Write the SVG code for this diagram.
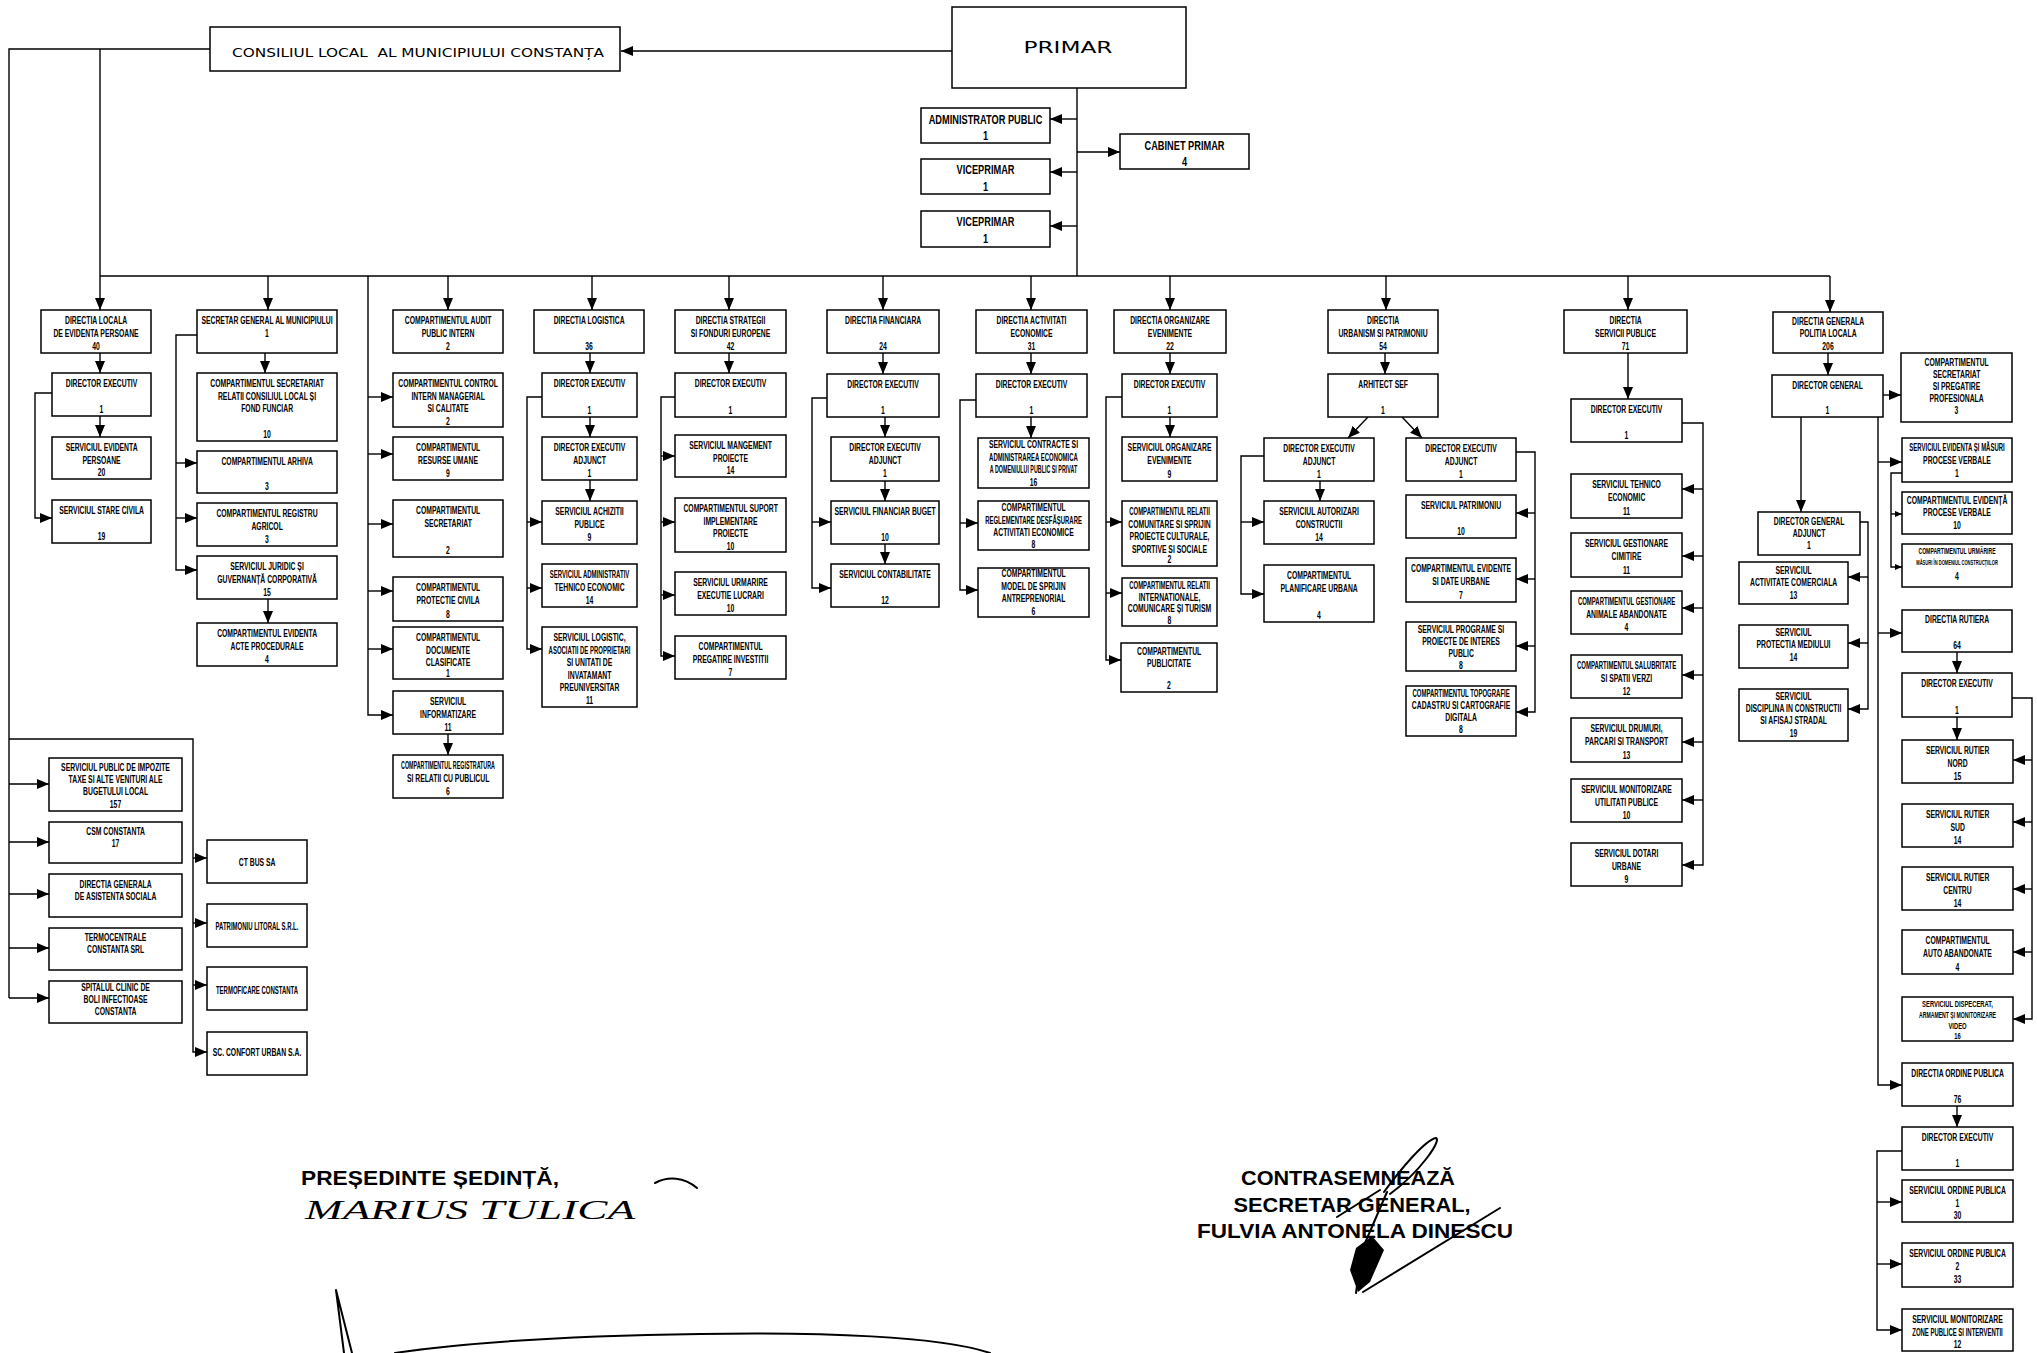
<svg xmlns="http://www.w3.org/2000/svg" width="2037" height="1353" viewBox="0 0 2037 1353">
<style>
.b{fill:#fff;stroke:#000;stroke-width:1.5}
.c{fill:none;stroke:#000;stroke-width:1.4}
.a{marker-end:url(#ah)}
.as{marker-end:url(#ahs)}
.t{font-family:"Liberation Sans",Arial,sans-serif;font-weight:bold;font-size:10.5px;text-anchor:middle;fill:#000;transform-box:fill-box;transform-origin:center;transform:scaleX(.65)}
.n{transform:scaleX(.57)}
.n2{transform:scaleX(.51)}
.s{font-size:9px}
.xs{font-size:8px}
.u{font-size:12.5px;transform:scaleX(.74)}
.sig{font-family:"Liberation Sans",Arial,sans-serif;font-weight:bold;font-size:20px;text-anchor:middle;fill:#000}
.hw{fill:none;stroke:#000;stroke-width:2;stroke-linecap:round;stroke-linejoin:round}
</style>
<defs>
<marker id="ah" viewBox="0 0 12 10" refX="12" refY="5" markerWidth="12" markerHeight="10" markerUnits="userSpaceOnUse" orient="auto"><path d="M0,0L12,5L0,10z" fill="#000"/></marker>
<marker id="ahs" viewBox="0 0 7 6" refX="7" refY="3" markerWidth="7" markerHeight="6" markerUnits="userSpaceOnUse" orient="auto"><path d="M0,0L7,3L0,6z" fill="#000"/></marker>
</defs>
<rect width="2037" height="1353" fill="#fff"/>

<g id="connectors">
<path class="c a" d="M952,51H621"/>
<path class="c" d="M210,49H9V998"/>
<path class="c a" d="M100,49V310"/>
<path class="c" d="M100,276H1830"/>
<path class="c" d="M1077,88V276"/>
<path class="c a" d="M1077,119H1050"/>
<path class="c a" d="M1077,172H1050"/>
<path class="c a" d="M1077,226H1050"/>
<path class="c a" d="M1077,152H1120"/>
<path class="c a" d="M268,276V310"/>
<path class="c a" d="M448,276V310"/>
<path class="c a" d="M592,276V310"/>
<path class="c a" d="M729,276V310"/>
<path class="c a" d="M883,276V310"/>
<path class="c a" d="M1031,276V310"/>
<path class="c a" d="M1170,276V310"/>
<path class="c a" d="M1386,276V310"/>
<path class="c a" d="M1628,276V310"/>
<path class="c a" d="M1830,276V312"/>
<!-- col 1 -->
<path class="c a" d="M100,353V373"/>
<path class="c a" d="M100,416V437"/>
<path class="c a" d="M52,393H35V518H52"/>
<!-- col 2 -->
<path class="c a" d="M265,353V373"/>
<path class="c a" d="M197,335H176V570H197"/>
<path class="c a" d="M176,463H197"/>
<path class="c a" d="M176,518H197"/>
<path class="c a" d="M268,599V623"/>
<!-- col 3 -->
<path class="c a" d="M368,276V715H393"/>
<path class="c a" d="M368,397H393"/>
<path class="c a" d="M368,454H393"/>
<path class="c a" d="M368,524H393"/>
<path class="c a" d="M368,591H393"/>
<path class="c a" d="M368,649H393"/>
<path class="c a" d="M448,734V755"/>
<!-- col 4 -->
<path class="c a" d="M590,353V373"/>
<path class="c a" d="M590,417V437"/>
<path class="c a" d="M590,480V501"/>
<path class="c a" d="M542,397H527V649H542"/>
<path class="c a" d="M527,522H542"/>
<path class="c a" d="M527,588H542"/>
<!-- col 5 -->
<path class="c a" d="M729,353V373"/>
<path class="c a" d="M675,397H661V656H675"/>
<path class="c a" d="M661,456H675"/>
<path class="c a" d="M661,522H675"/>
<path class="c a" d="M661,595H675"/>
<!-- col 6 -->
<path class="c a" d="M883,353V374"/>
<path class="c a" d="M885,417V437"/>
<path class="c a" d="M885,481V501"/>
<path class="c a" d="M885,544V564"/>
<path class="c a" d="M827,398H812V588H831"/>
<path class="c a" d="M812,522H831"/>
<!-- col 7 -->
<path class="c a" d="M1031,353V374"/>
<path class="c a" d="M1031,417V438"/>
<path class="c a" d="M976,400H960V590H978"/>
<path class="c a" d="M960,523H978"/>
<!-- col 8 -->
<path class="c a" d="M1170,353V374"/>
<path class="c a" d="M1170,417V437"/>
<path class="c a" d="M1122,397H1106V660H1121"/>
<path class="c a" d="M1106,522H1122"/>
<path class="c a" d="M1106,593H1122"/>
<!-- col 9 -->
<path class="c a" d="M1385,353V374"/>
<path class="c a" d="M1368,417L1348,438"/>
<path class="c a" d="M1402,417L1422,438"/>
<path class="c a" d="M1320,481V501"/>
<path class="c a" d="M1264,456H1241V594H1264"/>
<path class="c a" d="M1241,522H1264"/>
<path class="c a" d="M1516,452H1535V712H1516"/>
<path class="c a" d="M1535,513H1516"/>
<path class="c a" d="M1535,579H1516"/>
<path class="c a" d="M1535,646H1516"/>
<!-- col 10 -->
<path class="c a" d="M1628,353V399"/>
<path class="c a" d="M1682,423H1703V865H1682"/>
<path class="c a" d="M1703,489H1682"/>
<path class="c a" d="M1703,556H1682"/>
<path class="c a" d="M1703,608H1682"/>
<path class="c a" d="M1703,675H1682"/>
<path class="c a" d="M1703,742H1682"/>
<path class="c a" d="M1703,800H1682"/>
<!-- col 11 -->
<path class="c a" d="M1828,353V375"/>
<path class="c a" d="M1883,395H1901"/>
<path class="c a" d="M1801,417V512"/>
<path class="c a" d="M1878,417V1085H1902"/>
<path class="c a" d="M1878,462H1902"/>
<path class="c a" d="M1878,633H1902"/>
<path class="c as" d="M1902,473H1891V567H1902"/>
<path class="c as" d="M1891,514H1902"/>
<path class="c a" d="M1860,522H1868V709H1848"/>
<path class="c a" d="M1868,577H1848"/>
<path class="c a" d="M1868,643H1848"/>
<path class="c a" d="M1957,652V673"/>
<path class="c a" d="M1957,717V740"/>
<path class="c a" d="M2012,698H2032V1019H2013"/>
<path class="c a" d="M2032,760H2013"/>
<path class="c a" d="M2032,822H2013"/>
<path class="c a" d="M2032,889H2013"/>
<path class="c a" d="M2032,952H2013"/>
<path class="c a" d="M1957,1106V1127"/>
<path class="c a" d="M1902,1151H1877V1330H1902"/>
<path class="c a" d="M1877,1202H1902"/>
<path class="c a" d="M1877,1264H1902"/>
<!-- bottom left -->
<path class="c a" d="M9,784H49"/>
<path class="c a" d="M9,842H49"/>
<path class="c a" d="M9,894H49"/>
<path class="c a" d="M9,948H49"/>
<path class="c a" d="M9,998H49"/>
<path class="c a" d="M9,739H193V1052H207"/>
<path class="c a" d="M193,858H207"/>
<path class="c a" d="M193,923H207"/>
<path class="c a" d="M193,985H207"/>
</g>

<g id="consiliul"><rect class="b" x="210" y="27" width="410" height="44"/><text x="418" y="57" font-family="DejaVu Sans,Verdana,sans-serif" font-size="12" text-anchor="middle" textLength="372" lengthAdjust="spacingAndGlyphs" xml:space="preserve">CONSILIUL LOCAL  AL MUNICIPIULUI CONSTANȚA</text></g>
<g id="primar"><rect class="b" x="952" y="7" width="234" height="81"/><text x="1068" y="53" font-family="DejaVu Sans,Verdana,sans-serif" font-size="16" text-anchor="middle" textLength="89" lengthAdjust="spacingAndGlyphs">PRIMAR</text></g>
<g id="admin_public"><rect class="b" x="921" y="108" width="129" height="35"/><text class="t u" x="985.5" y="124">ADMINISTRATOR PUBLIC</text><text class="t u" x="985.5" y="140">1</text></g>
<g id="viceprimar1"><rect class="b" x="921" y="159" width="129" height="35"/><text class="t u" x="985.5" y="174">VICEPRIMAR</text><text class="t u" x="985.5" y="191">1</text></g>
<g id="viceprimar2"><rect class="b" x="921" y="211" width="129" height="36"/><text class="t u" x="985.5" y="226">VICEPRIMAR</text><text class="t u" x="985.5" y="243">1</text></g>
<g id="cabinet"><rect class="b" x="1120" y="134" width="129" height="35"/><text class="t u" x="1184.5" y="150">CABINET PRIMAR</text><text class="t u" x="1184.5" y="166">4</text></g>

<g id="dl"><rect class="b" x="41" y="310" width="110" height="43"/><text class="t" x="96" y="324.5">DIRECTIA LOCALA</text><text class="t" x="96" y="337">DE EVIDENTA PERSOANE</text><text class="t" x="96" y="350">40</text></g>
<g id="dl_de"><rect class="b" x="52" y="373" width="99" height="43"/><text class="t" x="101.5" y="387.5">DIRECTOR EXECUTIV</text><text class="t" x="101.5" y="413">1</text></g>
<g id="dl_sep"><rect class="b" x="52" y="437" width="99" height="42"/><text class="t" x="101.5" y="451.5">SERVICIUL EVIDENTA</text><text class="t" x="101.5" y="464">PERSOANE</text><text class="t" x="101.5" y="476.5">20</text></g>
<g id="dl_ssc"><rect class="b" x="52" y="500" width="99" height="43"/><text class="t" x="101.5" y="514.5">SERVICIUL STARE CIVILA</text><text class="t" x="101.5" y="540">19</text></g>

<g id="sg"><rect class="b" x="197" y="310" width="140" height="43"/><text class="t" x="267" y="324.5">SECRETAR GENERAL AL MUNICIPIULUI</text><text class="t" x="267" y="337">1</text></g>
<g id="sg_csr"><rect class="b" x="197" y="373" width="140" height="68"/><text class="t" x="267" y="387.5">COMPARTIMENTUL SECRETARIAT</text><text class="t" x="267" y="400">RELATII CONSILIUL LOCAL ȘI</text><text class="t" x="267" y="412.5">FOND FUNCIAR</text><text class="t" x="267" y="438">10</text></g>
<g id="sg_arh"><rect class="b" x="197" y="451" width="140" height="42"/><text class="t" x="267" y="465.5">COMPARTIMENTUL ARHIVA</text><text class="t" x="267" y="490">3</text></g>
<g id="sg_reg"><rect class="b" x="197" y="503" width="140" height="43"/><text class="t" x="267" y="517.5">COMPARTIMENTUL REGISTRU</text><text class="t" x="267" y="530">AGRICOL</text><text class="t" x="267" y="543">3</text></g>
<g id="sg_jur"><rect class="b" x="197" y="556" width="140" height="43"/><text class="t" x="267" y="570.5">SERVICIUL JURIDIC ȘI</text><text class="t" x="267" y="583">GUVERNANȚĂ CORPORATIVĂ</text><text class="t" x="267" y="596">15</text></g>
<g id="sg_eap"><rect class="b" x="197" y="623" width="140" height="43"/><text class="t" x="267" y="637.5">COMPARTIMENTUL EVIDENTA</text><text class="t" x="267" y="650">ACTE PROCEDURALE</text><text class="t" x="267" y="663">4</text></g>

<g id="au"><rect class="b" x="393" y="310" width="110" height="43"/><text class="t" x="448" y="324.5">COMPARTIMENTUL AUDIT</text><text class="t" x="448" y="337">PUBLIC INTERN</text><text class="t" x="448" y="350">2</text></g>
<g id="au_cim"><rect class="b" x="393" y="373" width="110" height="54"/><text class="t" x="448" y="387.5">COMPARTIMENTUL CONTROL</text><text class="t" x="448" y="400">INTERN MANAGERIAL</text><text class="t" x="448" y="412.5">SI CALITATE</text><text class="t" x="448" y="425">2</text></g>
<g id="au_ru"><rect class="b" x="393" y="437" width="110" height="43"/><text class="t" x="448" y="451.5">COMPARTIMENTUL</text><text class="t" x="448" y="464">RESURSE UMANE</text><text class="t" x="448" y="477">9</text></g>
<g id="au_sec"><rect class="b" x="393" y="500" width="110" height="57"/><text class="t" x="448" y="514.5">COMPARTIMENTUL</text><text class="t" x="448" y="527">SECRETARIAT</text><text class="t" x="448" y="554">2</text></g>
<g id="au_pc"><rect class="b" x="393" y="577" width="110" height="44"/><text class="t" x="448" y="591.5">COMPARTIMENTUL</text><text class="t" x="448" y="604">PROTECTIE CIVILA</text><text class="t" x="448" y="618">8</text></g>
<g id="au_dc"><rect class="b" x="393" y="627" width="110" height="52"/><text class="t" x="448" y="641.5">COMPARTIMENTUL</text><text class="t" x="448" y="654">DOCUMENTE</text><text class="t" x="448" y="666">CLASIFICATE</text><text class="t" x="448" y="677">1</text></g>
<g id="au_inf"><rect class="b" x="393" y="691" width="110" height="43"/><text class="t" x="448" y="705.5">SERVICIUL</text><text class="t" x="448" y="718">INFORMATIZARE</text><text class="t" x="448" y="731">11</text></g>
<g id="au_reg"><rect class="b" x="393" y="755" width="110" height="43"/><text class="t n2" x="448" y="769.5">COMPARTIMENTUL REGISTRATURA</text><text class="t" x="448" y="782">SI RELATII CU PUBLICUL</text><text class="t" x="448" y="795">6</text></g>

<g id="lg"><rect class="b" x="534" y="310" width="110" height="43"/><text class="t" x="589" y="324.5">DIRECTIA LOGISTICA</text><text class="t" x="589" y="350">36</text></g>
<g id="lg_de"><rect class="b" x="542" y="373" width="95" height="44"/><text class="t" x="589.5" y="387.5">DIRECTOR EXECUTIV</text><text class="t" x="589.5" y="414">1</text></g>
<g id="lg_dea"><rect class="b" x="542" y="437" width="95" height="43"/><text class="t" x="589.5" y="451.5">DIRECTOR EXECUTIV</text><text class="t" x="589.5" y="464">ADJUNCT</text><text class="t" x="589.5" y="477">1</text></g>
<g id="lg_ach"><rect class="b" x="542" y="501" width="95" height="43"/><text class="t" x="589.5" y="515.5">SERVICIUL ACHIZITII</text><text class="t" x="589.5" y="528">PUBLICE</text><text class="t" x="589.5" y="541">9</text></g>
<g id="lg_adm"><rect class="b" x="542" y="564" width="95" height="43"/><text class="t n" x="589.5" y="578.5">SERVICIUL ADMINISTRATIV</text><text class="t" x="589.5" y="591">TEHNICO ECONOMIC</text><text class="t" x="589.5" y="604">14</text></g>
<g id="lg_log"><rect class="b" x="542" y="627" width="95" height="80"/><text class="t" x="589.5" y="641.5">SERVICIUL LOGISTIC,</text><text class="t n" x="589.5" y="654">ASOCIATII DE PROPRIETARI</text><text class="t" x="589.5" y="666.5">SI UNITATI DE</text><text class="t" x="589.5" y="679">INVATAMANT</text><text class="t" x="589.5" y="691.5">PREUNIVERSITAR</text><text class="t" x="589.5" y="704">11</text></g>

<g id="st"><rect class="b" x="675" y="310" width="111" height="43"/><text class="t" x="730.5" y="324.5">DIRECTIA STRATEGII</text><text class="t" x="730.5" y="337">SI FONDURI EUROPENE</text><text class="t" x="730.5" y="350">42</text></g>
<g id="st_de"><rect class="b" x="675" y="373" width="111" height="44"/><text class="t" x="730.5" y="387.5">DIRECTOR EXECUTIV</text><text class="t" x="730.5" y="414">1</text></g>
<g id="st_smp"><rect class="b" x="675" y="435" width="111" height="42"/><text class="t" x="730.5" y="449.5">SERVICIUL MANGEMENT</text><text class="t" x="730.5" y="462">PROIECTE</text><text class="t" x="730.5" y="474">14</text></g>
<g id="st_csip"><rect class="b" x="675" y="498" width="111" height="54"/><text class="t" x="730.5" y="512.5">COMPARTIMENTUL SUPORT</text><text class="t" x="730.5" y="525">IMPLEMENTARE</text><text class="t" x="730.5" y="537.5">PROIECTE</text><text class="t" x="730.5" y="550">10</text></g>
<g id="st_sue"><rect class="b" x="675" y="572" width="111" height="43"/><text class="t" x="730.5" y="586.5">SERVICIUL URMARIRE</text><text class="t" x="730.5" y="599">EXECUTIE LUCRARI</text><text class="t" x="730.5" y="612">10</text></g>
<g id="st_cpi"><rect class="b" x="675" y="636" width="111" height="43"/><text class="t" x="730.5" y="650.5">COMPARTIMENTUL</text><text class="t" x="730.5" y="663">PREGATIRE INVESTITII</text><text class="t" x="730.5" y="676">7</text></g>

<g id="fi"><rect class="b" x="827" y="310" width="112" height="43"/><text class="t" x="883" y="324.5">DIRECTIA FINANCIARA</text><text class="t" x="883" y="350">24</text></g>
<g id="fi_de"><rect class="b" x="827" y="374" width="112" height="43"/><text class="t" x="883" y="388.5">DIRECTOR EXECUTIV</text><text class="t" x="883" y="414">1</text></g>
<g id="fi_dea"><rect class="b" x="831" y="437" width="108" height="44"/><text class="t" x="885" y="451.5">DIRECTOR EXECUTIV</text><text class="t" x="885" y="464">ADJUNCT</text><text class="t" x="885" y="477.5">1</text></g>
<g id="fi_sfb"><rect class="b" x="831" y="501" width="108" height="43"/><text class="t" x="885" y="515.5">SERVICIUL FINANCIAR BUGET</text><text class="t" x="885" y="541">10</text></g>
<g id="fi_sc"><rect class="b" x="831" y="564" width="108" height="43"/><text class="t" x="885" y="578.5">SERVICIUL CONTABILITATE</text><text class="t" x="885" y="604">12</text></g>

<g id="ae"><rect class="b" x="976" y="310" width="111" height="43"/><text class="t" x="1031.5" y="324.5">DIRECTIA ACTIVITATI</text><text class="t" x="1031.5" y="337">ECONOMICE</text><text class="t" x="1031.5" y="350">31</text></g>
<g id="ae_de"><rect class="b" x="976" y="374" width="111" height="43"/><text class="t" x="1031.5" y="388.5">DIRECTOR EXECUTIV</text><text class="t" x="1031.5" y="414">1</text></g>
<g id="ae_sca"><rect class="b" x="978" y="438" width="111" height="50"/><text class="t" x="1033.5" y="448.5">SERVICIUL CONTRACTE SI</text><text class="t n" x="1033.5" y="461">ADMINISTRAREA ECONOMICA</text><text class="t n2" x="1033.5" y="473.5">A DOMENIULUI PUBLIC SI PRIVAT</text><text class="t" x="1033.5" y="486">16</text></g>
<g id="ae_crd"><rect class="b" x="978" y="501" width="111" height="49"/><text class="t" x="1033.5" y="511.5">COMPARTIMENTUL</text><text class="t n" x="1033.5" y="524">REGLEMENTARE DESFĂȘURARE</text><text class="t" x="1033.5" y="536.5">ACTIVITATI ECONOMICE</text><text class="t" x="1033.5" y="548">8</text></g>
<g id="ae_cms"><rect class="b" x="978" y="568" width="111" height="49"/><text class="t" x="1033.5" y="577.5">COMPARTIMENTUL</text><text class="t" x="1033.5" y="590">MODEL DE SPRIJIN</text><text class="t" x="1033.5" y="602.5">ANTREPRENORIAL</text><text class="t" x="1033.5" y="615">6</text></g>

<g id="oe"><rect class="b" x="1114" y="310" width="112" height="43"/><text class="t" x="1170" y="324.5">DIRECTIA ORGANIZARE</text><text class="t" x="1170" y="337">EVENIMENTE</text><text class="t" x="1170" y="350">22</text></g>
<g id="oe_de"><rect class="b" x="1122" y="374" width="95" height="43"/><text class="t" x="1169.5" y="388.5">DIRECTOR EXECUTIV</text><text class="t" x="1169.5" y="414">1</text></g>
<g id="oe_soe"><rect class="b" x="1122" y="437" width="95" height="44"/><text class="t" x="1169.5" y="451.5">SERVICIUL ORGANIZARE</text><text class="t" x="1169.5" y="464">EVENIMENTE</text><text class="t" x="1169.5" y="478">9</text></g>
<g id="oe_crc"><rect class="b" x="1122" y="501" width="95" height="65"/><text class="t n" x="1169.5" y="515.5">COMPARTIMENTUL RELATII</text><text class="t" x="1169.5" y="528">COMUNITARE SI SPRIJIN</text><text class="t" x="1169.5" y="540.5">PROIECTE CULTURALE,</text><text class="t" x="1169.5" y="553">SPORTIVE SI SOCIALE</text><text class="t" x="1169.5" y="563.5">2</text></g>
<g id="oe_cri"><rect class="b" x="1122" y="578" width="95" height="48"/><text class="t n" x="1169.5" y="589.5">COMPARTIMENTUL RELATII</text><text class="t" x="1169.5" y="601">INTERNATIONALE,</text><text class="t" x="1169.5" y="612.5">COMUNICARE ȘI TURISM</text><text class="t" x="1169.5" y="624">8</text></g>
<g id="oe_cp"><rect class="b" x="1121" y="643" width="96" height="49"/><text class="t" x="1169" y="655">COMPARTIMENTUL</text><text class="t" x="1169" y="667">PUBLICITATE</text><text class="t" x="1169" y="689">2</text></g>

<g id="ur"><rect class="b" x="1328" y="310" width="110" height="43"/><text class="t" x="1383" y="324.5">DIRECTIA</text><text class="t" x="1383" y="337">URBANISM SI PATRIMONIU</text><text class="t" x="1383" y="350">54</text></g>
<g id="ur_as"><rect class="b" x="1328" y="374" width="110" height="43"/><text class="t" x="1383" y="388.5">ARHITECT SEF</text><text class="t" x="1383" y="414">1</text></g>
<g id="ur_dea1"><rect class="b" x="1264" y="438" width="110" height="43"/><text class="t" x="1319" y="452.5">DIRECTOR EXECUTIV</text><text class="t" x="1319" y="465">ADJUNCT</text><text class="t" x="1319" y="478">1</text></g>
<g id="ur_sac"><rect class="b" x="1264" y="501" width="110" height="43"/><text class="t" x="1319" y="515.5">SERVICIUL AUTORIZARI</text><text class="t" x="1319" y="528">CONSTRUCTII</text><text class="t" x="1319" y="541">14</text></g>
<g id="ur_cpu"><rect class="b" x="1264" y="565" width="110" height="57"/><text class="t" x="1319" y="579.5">COMPARTIMENTUL</text><text class="t" x="1319" y="592">PLANIFICARE URBANA</text><text class="t" x="1319" y="619">4</text></g>
<g id="ur_dea2"><rect class="b" x="1406" y="438" width="110" height="43"/><text class="t" x="1461" y="452.5">DIRECTOR EXECUTIV</text><text class="t" x="1461" y="465">ADJUNCT</text><text class="t" x="1461" y="478">1</text></g>
<g id="ur_sp"><rect class="b" x="1406" y="495" width="110" height="43"/><text class="t" x="1461" y="509.5">SERVICIUL PATRIMONIU</text><text class="t" x="1461" y="535">10</text></g>
<g id="ur_ced"><rect class="b" x="1406" y="558" width="110" height="44"/><text class="t" x="1461" y="572.5">COMPARTIMENTUL EVIDENTE</text><text class="t" x="1461" y="585">SI DATE URBANE</text><text class="t" x="1461" y="599">7</text></g>
<g id="ur_spp"><rect class="b" x="1406" y="622" width="110" height="49"/><text class="t" x="1461" y="633.5">SERVICIUL PROGRAME SI</text><text class="t" x="1461" y="645.5">PROIECTE DE INTERES</text><text class="t" x="1461" y="657.5">PUBLIC</text><text class="t" x="1461" y="669">8</text></g>
<g id="ur_ctc"><rect class="b" x="1406" y="686" width="110" height="50"/><text class="t n" x="1461" y="697.5">COMPARTIMENTUL TOPOGRAFIE</text><text class="t" x="1461" y="709.5">CADASTRU SI CARTOGRAFIE</text><text class="t" x="1461" y="721.5">DIGITALA</text><text class="t" x="1461" y="733.5">8</text></g>

<g id="sp"><rect class="b" x="1564" y="310" width="123" height="43"/><text class="t" x="1625.5" y="324.5">DIRECTIA</text><text class="t" x="1625.5" y="337">SERVICII PUBLICE</text><text class="t" x="1625.5" y="350">71</text></g>
<g id="sp_de"><rect class="b" x="1571" y="399" width="111" height="43"/><text class="t" x="1626.5" y="413.5">DIRECTOR EXECUTIV</text><text class="t" x="1626.5" y="439">1</text></g>
<g id="sp_ste"><rect class="b" x="1571" y="474" width="111" height="44"/><text class="t" x="1626.5" y="488.5">SERVICIUL TEHNICO</text><text class="t" x="1626.5" y="501">ECONOMIC</text><text class="t" x="1626.5" y="515">11</text></g>
<g id="sp_sgc"><rect class="b" x="1571" y="533" width="111" height="44"/><text class="t" x="1626.5" y="547.5">SERVICIUL GESTIONARE</text><text class="t" x="1626.5" y="560">CIMITIRE</text><text class="t" x="1626.5" y="574">11</text></g>
<g id="sp_cga"><rect class="b" x="1571" y="591" width="111" height="43"/><text class="t n" x="1626.5" y="605.5">COMPARTIMENTUL GESTIONARE</text><text class="t" x="1626.5" y="618">ANIMALE ABANDONATE</text><text class="t" x="1626.5" y="631">4</text></g>
<g id="sp_css"><rect class="b" x="1571" y="655" width="111" height="43"/><text class="t n" x="1626.5" y="669.5">COMPARTIMENTUL SALUBRITATE</text><text class="t" x="1626.5" y="682">SI SPATII VERZI</text><text class="t" x="1626.5" y="695">12</text></g>
<g id="sp_sdp"><rect class="b" x="1571" y="718" width="111" height="44"/><text class="t" x="1626.5" y="732.5">SERVICIUL DRUMURI,</text><text class="t" x="1626.5" y="745">PARCARI SI TRANSPORT</text><text class="t" x="1626.5" y="759">13</text></g>
<g id="sp_smu"><rect class="b" x="1571" y="779" width="111" height="43"/><text class="t" x="1626.5" y="793.5">SERVICIUL MONITORIZARE</text><text class="t" x="1626.5" y="806">UTILITATI PUBLICE</text><text class="t" x="1626.5" y="819">10</text></g>
<g id="sp_sdu"><rect class="b" x="1571" y="843" width="111" height="43"/><text class="t" x="1626.5" y="857.5">SERVICIUL DOTARI</text><text class="t" x="1626.5" y="870">URBANE</text><text class="t" x="1626.5" y="883">9</text></g>

<g id="pl"><rect class="b" x="1773" y="312" width="110" height="41"/><text class="t" x="1828" y="325">DIRECTIA GENERALA</text><text class="t" x="1828" y="337.5">POLITIA LOCALA</text><text class="t" x="1828" y="350">206</text></g>
<g id="pl_dg"><rect class="b" x="1772" y="375" width="111" height="42"/><text class="t" x="1827.5" y="389.5">DIRECTOR GENERAL</text><text class="t" x="1827.5" y="414">1</text></g>
<g id="pl_csp"><rect class="b" x="1901" y="353" width="111" height="69"/><text class="t" x="1956.5" y="366">COMPARTIMENTUL</text><text class="t" x="1956.5" y="378">SECRETARIAT</text><text class="t" x="1956.5" y="390">SI PREGATIRE</text><text class="t" x="1956.5" y="402">PROFESIONALA</text><text class="t" x="1956.5" y="414.5">3</text></g>
<g id="pl_sem"><rect class="b" x="1902" y="438" width="110" height="44"/><text class="t n" x="1957" y="451.5">SERVICIUL EVIDENTA ȘI MĂSURI</text><text class="t" x="1957" y="464">PROCESE VERBALE</text><text class="t" x="1957" y="477">1</text></g>
<g id="pl_cep"><rect class="b" x="1902" y="492" width="110" height="42"/><text class="t" x="1957" y="504.5">COMPARTIMENTUL EVIDENȚĂ</text><text class="t" x="1957" y="516.5">PROCESE VERBALE</text><text class="t" x="1957" y="529.5">10</text></g>
<g id="pl_cum"><rect class="b" x="1902" y="544" width="110" height="43"/><text class="t s n" x="1957" y="554">COMPARTIMENTUL URMĂRIRE</text><text class="t xs n2" x="1957" y="565">MĂSURI ÎN DOMENIUL CONSTRUCȚIILOR</text><text class="t" x="1957" y="580">4</text></g>
<g id="pl_dga"><rect class="b" x="1758" y="512" width="102" height="43"/><text class="t" x="1809" y="525">DIRECTOR GENERAL</text><text class="t" x="1809" y="537">ADJUNCT</text><text class="t" x="1809" y="549">1</text></g>
<g id="pl_sac"><rect class="b" x="1739" y="562" width="109" height="42"/><text class="t" x="1793.5" y="574">SERVICIUL</text><text class="t" x="1793.5" y="586">ACTIVITATE COMERCIALA</text><text class="t" x="1793.5" y="599">13</text></g>
<g id="pl_spm"><rect class="b" x="1739" y="625" width="109" height="43"/><text class="t" x="1793.5" y="636">SERVICIUL</text><text class="t" x="1793.5" y="648">PROTECTIA MEDIULUI</text><text class="t" x="1793.5" y="661">14</text></g>
<g id="pl_sdc"><rect class="b" x="1739" y="689" width="109" height="52"/><text class="t" x="1793.5" y="700">SERVICIUL</text><text class="t" x="1793.5" y="712">DISCIPLINA IN CONSTRUCTII</text><text class="t" x="1793.5" y="724">SI AFISAJ STRADAL</text><text class="t" x="1793.5" y="737">19</text></g>
<g id="pl_dr"><rect class="b" x="1902" y="610" width="110" height="42"/><text class="t" x="1957" y="623.5">DIRECTIA RUTIERA</text><text class="t" x="1957" y="649">64</text></g>
<g id="pl_dr_de"><rect class="b" x="1902" y="673" width="110" height="44"/><text class="t" x="1957" y="687.5">DIRECTOR EXECUTIV</text><text class="t" x="1957" y="714">1</text></g>
<g id="pl_srn"><rect class="b" x="1902" y="740" width="111" height="43"/><text class="t" x="1957.5" y="754.5">SERVICIUL RUTIER</text><text class="t" x="1957.5" y="767">NORD</text><text class="t" x="1957.5" y="780">15</text></g>
<g id="pl_srs"><rect class="b" x="1902" y="804" width="111" height="43"/><text class="t" x="1957.5" y="818.5">SERVICIUL RUTIER</text><text class="t" x="1957.5" y="831">SUD</text><text class="t" x="1957.5" y="844">14</text></g>
<g id="pl_src"><rect class="b" x="1902" y="867" width="111" height="43"/><text class="t" x="1957.5" y="881.5">SERVICIUL RUTIER</text><text class="t" x="1957.5" y="894">CENTRU</text><text class="t" x="1957.5" y="907">14</text></g>
<g id="pl_cab"><rect class="b" x="1902" y="930" width="111" height="44"/><text class="t" x="1957.5" y="944.5">COMPARTIMENTUL</text><text class="t" x="1957.5" y="957">AUTO ABANDONATE</text><text class="t" x="1957.5" y="971">4</text></g>
<g id="pl_sdv"><rect class="b" x="1902" y="997" width="111" height="44"/><text class="t s" x="1957.5" y="1007">SERVICIUL DISPECERAT,</text><text class="t s n" x="1957.5" y="1018.5">ARMAMENT ȘI MONITORIZARE</text><text class="t s" x="1957.5" y="1029">VIDEO</text><text class="t s" x="1957.5" y="1039">16</text></g>
<g id="pl_dop"><rect class="b" x="1902" y="1063" width="111" height="43"/><text class="t" x="1957.5" y="1077.5">DIRECTIA ORDINE PUBLICA</text><text class="t" x="1957.5" y="1103">76</text></g>
<g id="pl_dop_de"><rect class="b" x="1902" y="1127" width="111" height="43"/><text class="t" x="1957.5" y="1141.5">DIRECTOR EXECUTIV</text><text class="t" x="1957.5" y="1167">1</text></g>
<g id="pl_sop1"><rect class="b" x="1902" y="1180" width="111" height="42"/><text class="t" x="1957.5" y="1194.5">SERVICIUL ORDINE PUBLICA</text><text class="t" x="1957.5" y="1207">1</text><text class="t" x="1957.5" y="1219">30</text></g>
<g id="pl_sop2"><rect class="b" x="1902" y="1243" width="111" height="44"/><text class="t" x="1957.5" y="1257.5">SERVICIUL ORDINE PUBLICA</text><text class="t" x="1957.5" y="1270">2</text><text class="t" x="1957.5" y="1283">33</text></g>
<g id="pl_smz"><rect class="b" x="1902" y="1309" width="111" height="42"/><text class="t" x="1957.5" y="1323.5">SERVICIUL MONITORIZARE</text><text class="t n" x="1957.5" y="1336">ZONE PUBLICE SI INTERVENTII</text><text class="t" x="1957.5" y="1348">12</text></g>

<g id="b_spit"><rect class="b" x="49" y="758" width="133" height="53"/><text class="t" x="115.5" y="771">SERVICIUL PUBLIC DE IMPOZITE</text><text class="t" x="115.5" y="783">TAXE SI ALTE VENITURI ALE</text><text class="t" x="115.5" y="795.5">BUGETULUI LOCAL</text><text class="t" x="115.5" y="808">157</text></g>
<g id="b_csm"><rect class="b" x="49" y="822" width="133" height="41"/><text class="t" x="115.5" y="835">CSM CONSTANTA</text><text class="t" x="115.5" y="847">17</text></g>
<g id="b_dgas"><rect class="b" x="49" y="874" width="133" height="43"/><text class="t" x="115.5" y="888">DIRECTIA GENERALA</text><text class="t" x="115.5" y="900">DE ASISTENTA SOCIALA</text></g>
<g id="b_term"><rect class="b" x="49" y="928" width="133" height="42"/><text class="t" x="115.5" y="941">TERMOCENTRALE</text><text class="t" x="115.5" y="953">CONSTANTA SRL</text></g>
<g id="b_spcl"><rect class="b" x="49" y="981" width="133" height="42"/><text class="t" x="115.5" y="991.5">SPITALUL CLINIC DE</text><text class="t" x="115.5" y="1003">BOLI INFECTIOASE</text><text class="t" x="115.5" y="1015">CONSTANTA</text></g>
<g id="b_ctbus"><rect class="b" x="207" y="840" width="100" height="43"/><text class="t" x="257" y="866">CT BUS SA</text></g>
<g id="b_patr"><rect class="b" x="207" y="904" width="100" height="43"/><text class="t n" x="257" y="930.5">PATRIMONIU LITORAL S.R.L.</text></g>
<g id="b_termof"><rect class="b" x="207" y="967" width="100" height="43"/><text class="t n" x="257" y="994">TERMOFICARE CONSTANTA</text></g>
<g id="b_conf"><rect class="b" x="207" y="1032" width="100" height="43"/><text class="t" x="257" y="1056">SC. CONFORT URBAN S.A.</text></g>

<g id="signatures">
<text class="sig" x="430" y="1185" textLength="258" lengthAdjust="spacingAndGlyphs">PREȘEDINTE ȘEDINȚĂ,</text>
<text x="470" y="1219" font-family="Liberation Serif,serif" font-style="italic" font-size="28" text-anchor="middle" textLength="330" lengthAdjust="spacingAndGlyphs">MARIUS TULICA</text>
<path class="hw" d="M655,1183C668,1176 684,1177 697,1188"/>
<text class="sig" x="1348" y="1185" textLength="214" lengthAdjust="spacingAndGlyphs">CONTRASEMNEAZĂ</text>
<text class="sig" x="1352" y="1212" textLength="237" lengthAdjust="spacingAndGlyphs">SECRETAR GENERAL,</text>
<text class="sig" x="1355" y="1238" textLength="316" lengthAdjust="spacingAndGlyphs">FULVIA ANTONELA DINESCU</text>
<path class="hw" d="M1384,1192C1400,1170 1425,1140 1436,1138C1442,1140 1420,1172 1390,1194M1387,1192L1362,1250L1356,1293M1500,1208L1363,1292M1380,1190L1337,1217"/>
<path d="M1356,1248L1372,1236L1384,1250L1370,1282L1358,1292L1350,1270z" fill="#000"/>
<path class="hw" d="M336,1290L344,1353M336,1290L352,1353"/>
<path class="hw" stroke-width="3" d="M395,1353C470,1342 560,1336 700,1334C820,1332 940,1336 990,1353"/>
</g>
</svg>
